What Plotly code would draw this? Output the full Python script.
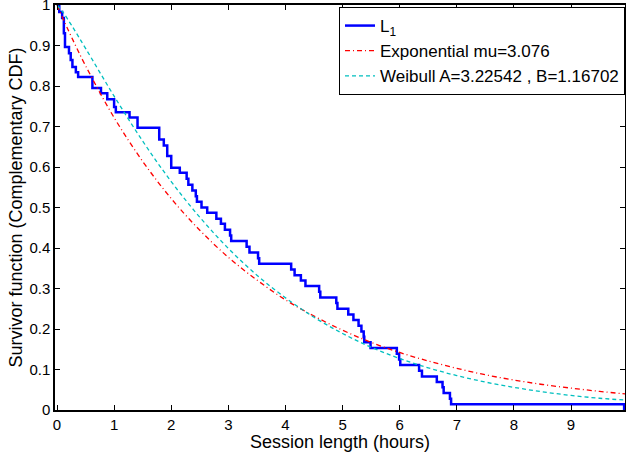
import plotly.graph_objects as go

session_hours = [0, 0.04, 0.09, 0.12, 0.14, 0.21, 0.24, 0.27, 0.33, 0.37, 0.62, 0.77,
                 0.88, 1.00, 1.03, 1.27, 1.41, 1.79, 1.87, 1.93, 2.00, 2.15, 2.27, 2.30,
                 2.37, 2.43, 2.45, 2.53, 2.63, 2.79, 2.87, 2.94, 3.03, 3.05, 3.32, 3.37,
                 3.52, 3.54, 4.10, 4.16, 4.27, 4.35, 4.59, 4.61, 4.89, 4.91, 5.10, 5.19,
                 5.28, 5.33, 5.37, 5.38, 5.49, 5.95, 5.99, 6.01, 6.34, 6.39, 6.65, 6.75,
                 6.77, 6.88, 6.90, 9.93]
survivor = [1.0, 0.983, 0.968, 0.930, 0.896, 0.881, 0.864, 0.847, 0.834, 0.822, 0.795, 0.782,
            0.767, 0.748, 0.735, 0.722, 0.697, 0.668, 0.653, 0.627, 0.598, 0.586, 0.571, 0.556,
            0.542, 0.528, 0.514, 0.500, 0.487, 0.472, 0.460, 0.445, 0.431, 0.417, 0.403, 0.389,
            0.375, 0.361, 0.347, 0.333, 0.320, 0.306, 0.292, 0.278, 0.264, 0.250, 0.236, 0.222,
            0.208, 0.194, 0.181, 0.167, 0.153, 0.139, 0.125, 0.111, 0.097, 0.083, 0.069, 0.056,
            0.042, 0.028, 0.014, 0.0]

# fitted curves, sampled values
fit_hours = [0, 0.1, 0.25, 0.5, 1, 1.5, 2, 2.5, 3, 3.5, 4, 4.5, 5, 5.5, 6, 6.5, 7, 7.5,
             8, 8.5, 9, 9.5, 10]
expo_fit = [1.0, 0.968, 0.922, 0.850, 0.722, 0.614, 0.522, 0.444, 0.377, 0.321, 0.272,
            0.232, 0.197, 0.167, 0.142, 0.121, 0.103, 0.087, 0.074, 0.063, 0.054, 0.046, 0.039]
weibull_fit = [1.0, 0.983, 0.951, 0.893, 0.775, 0.664, 0.564, 0.476, 0.399, 0.333, 0.277,
               0.229, 0.189, 0.155, 0.127, 0.104, 0.085, 0.069, 0.056, 0.045, 0.036, 0.029, 0.024]

x_ticks = [0, 1, 2, 3, 4, 5, 6, 7, 8, 9]
y_ticks = [0, 0.1, 0.2, 0.3, 0.4, 0.5, 0.6, 0.7, 0.8, 0.9, 1]
y_labels = ["0", "0.1", "0.2", "0.3", "0.4", "0.5", "0.6", "0.7", "0.8", "0.9", "1"]

font = "Liberation Sans, Arial, Helvetica, sans-serif"

fig = go.Figure()

fig.add_trace(go.Scatter(
    x=session_hours, y=survivor, mode="lines", line_shape="hv",
    line=dict(color="#0000ff", width=2.5), name="L<sub>1</sub>"
))
fig.add_trace(go.Scatter(
    x=fit_hours, y=expo_fit, mode="lines", line_shape="spline",
    line=dict(color="#ff0000", width=1.3, dash="5px,3px,1px,3px"), name="Exponential mu=3.076"
))
fig.add_trace(go.Scatter(
    x=fit_hours, y=weibull_fit, mode="lines", line_shape="spline",
    line=dict(color="#00bfbf", width=1.3, dash="4px,3px"), name="Weibull A=3.22542 , B=1.16702"
))

axis_style = dict(
    showgrid=False, zeroline=False, showline=True, linecolor="black", linewidth=1.5,
    mirror="ticks", ticks="inside", ticklen=5, tickcolor="black", automargin=False,
    ticklabeloverflow="allow",
    tickfont=dict(size=15, color="black", family=font),
)

fig.update_layout(
    width=626, height=452,
    margin=dict(l=55, r=1, t=5, b=42),
    paper_bgcolor="white", plot_bgcolor="white",
    font=dict(family=font, color="black"),
    xaxis=dict(range=[-0.035, 9.945], tickvals=x_ticks,
               title=dict(text="Session length (hours)", font=dict(size=18), standoff=0),
               **axis_style),
    yaxis=dict(range=[0, 1], tickvals=y_ticks, ticktext=y_labels,
               title=dict(text="Survivor function (Complementary CDF)", font=dict(size=18), standoff=2),
               **axis_style),
    legend=dict(x=1, y=0.995, xanchor="right", yanchor="top",
                bgcolor="white", bordercolor="black", borderwidth=1,
                font=dict(size=17, color="black"), itemwidth=30,
                tracegroupgap=0),
    showlegend=True,
)

# drop the browser's default 8px body margin so the figure sits at the page corner
fig.write_html("out.html", config={"displayModeBar": False},
               post_script="document.body.style.margin='0';")
